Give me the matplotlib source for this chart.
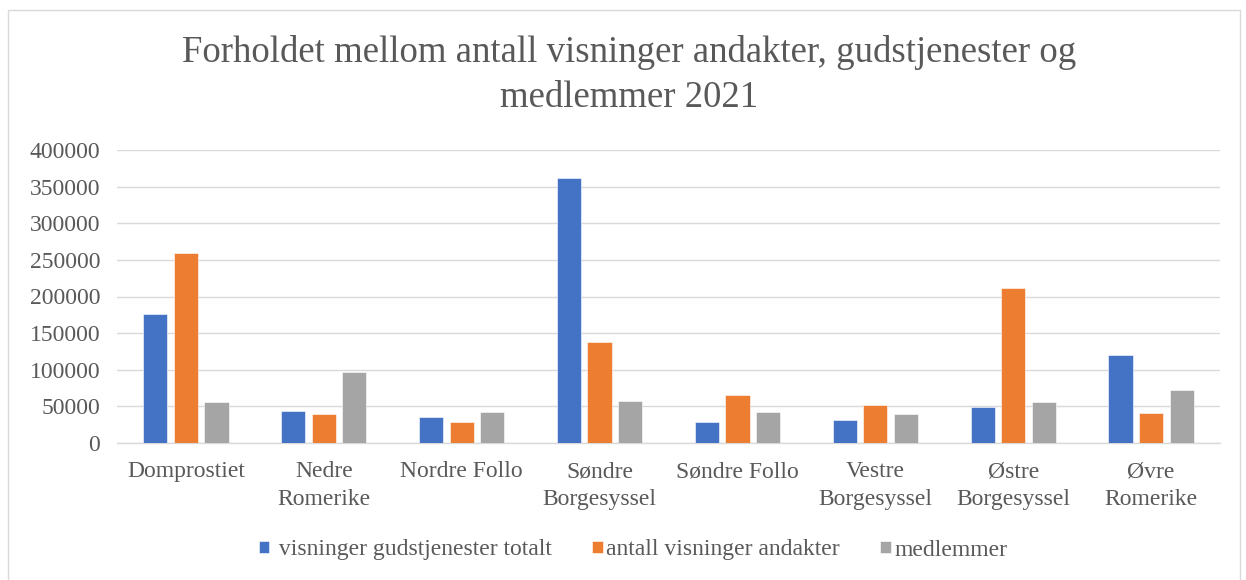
import numpy as np
import matplotlib
matplotlib.use('Agg')
import matplotlib.pyplot as plt
from matplotlib.patches import Rectangle
from matplotlib.ticker import FormatStrFormatter

# data
categories = ['Domprostiet', 'Nedre\nRomerike', 'Nordre Follo', 'Søndre\nBorgesyssel',
              'Søndre Follo', 'Vestre\nBorgesyssel', 'Østre\nBorgesyssel', 'Øvre\nRomerike']
gudstjenester = [176000, 43500, 35000, 362000, 28300, 31500, 49700, 119500]
andakter = [260000, 39000, 28300, 138000, 65500, 51500, 212000, 40500]
medlemmer = [55500, 97000, 42500, 57000, 42800, 39000, 55500, 73000]
series_names = [' visninger gudstjenester totalt', 'antall visninger andakter', 'medlemmer']
colors = ['#4472C4', '#ED7D31', '#A5A5A5']
yticks = [0, 50000, 100000, 150000, 200000, 250000, 300000, 350000, 400000]

TXT = '#595959'
GRID = '#D9D9D9'


def main():
    plt.rcParams['font.family'] = ['Liberation Serif', 'DejaVu Serif']

    W, H = 1246, 580
    fig = plt.figure(figsize=(W / 100, H / 100), dpi=100)
    ax = fig.add_axes([117 / W, 1 - 443 / H, (1220 - 117) / W, (443 - 150) / H])

    # chart area border
    fig.patches.append(Rectangle((8 / W, -0.02), (1240 - 8) / W, (H - 10) / H + 0.02,
                                 transform=fig.transFigure, fill=False,
                                 edgecolor=GRID, lw=1.0))

    x = np.arange(len(categories))
    width = 0.175
    step = 0.222
    data = [gudstjenester, andakter, medlemmer]
    for i, (vals, name, c) in enumerate(zip(data, series_names, colors)):
        ax.bar(x + (i - 1) * step, vals, width, color=c, label=name,
               edgecolor='white', linewidth=0.4, zorder=3)

    ax.set_xlim(-0.5, len(categories) - 0.5)
    ax.set_ylim(0, 400000)
    ax.set_yticks(yticks)
    ax.yaxis.set_major_formatter(FormatStrFormatter('%d'))
    ax.set_xticks(x)
    ax.set_xticklabels(categories, linespacing=1.45)

    ax.grid(axis='y', color=GRID, lw=1.0, zorder=0)
    for s in ['top', 'right', 'left']:
        ax.spines[s].set_visible(False)
    ax.spines['bottom'].set_color(GRID)
    ax.spines['bottom'].set_linewidth(1.0)
    ax.tick_params(axis='both', length=0, labelsize=17, colors=TXT)
    ax.tick_params(axis='y', pad=12)
    ax.tick_params(axis='x', pad=13)

    fig.text(629 / W, 1 - 75 / H,
             'Forholdet mellom antall visninger andakter, gudstjenester og\nmedlemmer 2021',
             ha='center', va='center', fontsize=26.5, color=TXT, linespacing=1.42)

    fig.legend(loc='center', bbox_to_anchor=(633 / W, 1 - 550 / H), ncol=3,
               frameon=False, fontsize=17, labelcolor=TXT,
               handlelength=0.45, handleheight=0.45, handletextpad=0.15,
               columnspacing=1.7)

    plt.savefig('out.png', dpi=100)


if __name__ == "__main__":
    main()
